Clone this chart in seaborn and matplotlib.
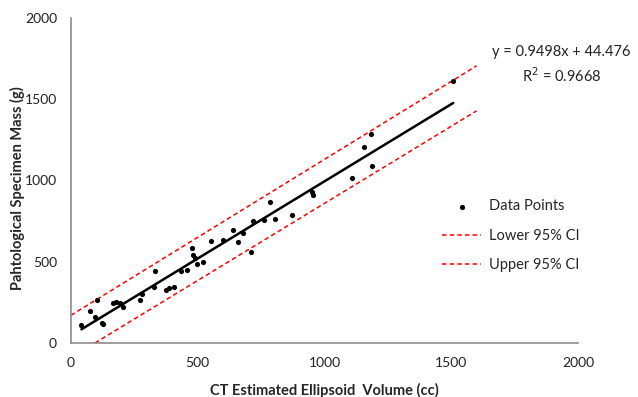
import matplotlib
matplotlib.use("Agg")
import matplotlib.pyplot as plt
import seaborn as sns
import pandas as pd

# values
volume_cc = [42, 75, 95, 105, 121, 125, 167, 180, 193, 206, 272, 279, 329, 331,
             377, 387, 406, 433, 457, 476, 483, 489, 496, 520, 552, 601, 638,
             658, 680, 709, 719, 763, 785, 805, 871, 950, 956, 1107, 1156,
             1184, 1186, 1508]
mass_g = [109, 197, 162, 265, 125, 115, 244, 250, 244, 223, 265, 300, 347, 443,
          326, 336, 347, 443, 449, 583, 541, 521, 486, 500, 628, 634, 695,
          620, 675, 562, 753, 757, 866, 761, 790, 931, 911, 1013, 1208,
          1286, 1089, 1614]

slope = 0.9498
intercept = 44.476
r2 = 0.9668

upper_x = [0, 1600]
upper_y = [170, 1705]
lower_x = [95, 1600]
lower_y = [0, 1428]

sns.set_style("white")
plt.rcParams['font.family'] = ['Lato', 'DejaVu Sans']

fig = plt.figure(figsize=(6.38, 3.97), dpi=100)
ax = fig.add_axes([0.111, 0.136, 0.795, 0.819])

pts = pd.DataFrame({'x': volume_cc, 'y': mass_g})
sns.scatterplot(data=pts, x='x', y='y', ax=ax, color='black', s=14,
                edgecolor='black', linewidth=0, label='Data Points', zorder=3)

fit_x = [min(volume_cc), max(volume_cc)]
fit_y = [slope * v + intercept for v in fit_x]
sns.lineplot(x=fit_x, y=fit_y, ax=ax, color='black', linewidth=1.8, zorder=2)

sns.lineplot(x=lower_x, y=lower_y, ax=ax, color='red', linestyle=(0, (3, 2)),
             linewidth=1.1, label='Lower 95% CI')
sns.lineplot(x=upper_x, y=upper_y, ax=ax, color='red', linestyle=(0, (3, 2)),
             linewidth=1.1, label='Upper 95% CI')

ax.set_xlim(0, 2000)
ax.set_ylim(0, 2000)
ax.set_xticks([0, 500, 1000, 1500, 2000])
ax.set_yticks([0, 500, 1000, 1500, 2000])

for side in ['top', 'right']:
    ax.spines[side].set_visible(False)
for side in ['left', 'bottom']:
    ax.spines[side].set_color('#8c8c8c')
    ax.spines[side].set_linewidth(1.2)
ax.tick_params(axis='both', direction='out', length=4, width=1, color='#8c8c8c',
               labelsize=10, labelcolor='#222222', pad=6)

ax.set_xlabel('CT Estimated Ellipsoid  Volume (cc)', fontsize=10.5,
              fontweight='bold')
ax.set_ylabel('Pahtological Specimen Mass (g)', fontsize=10.5,
              fontweight='bold')
ax.xaxis.set_label_coords(0.5, -0.122)
ax.yaxis.set_label_coords(-0.09, 0.477)

ax.text(0.967, 0.855, 'y = 0.9498x + 44.476\nR$^2$ = %.4f' % r2,
        transform=ax.transAxes, ha='center', va='center', fontsize=10.5,
        linespacing=1.45, color='#222222')

leg = ax.legend(loc='center left', bbox_to_anchor=(0.706, 0.33), frameon=False,
                fontsize=10.5, handlelength=2.7, handletextpad=0.55,
                labelspacing=1.05, markerscale=1.0)

fig.savefig('out.png', dpi=100)
